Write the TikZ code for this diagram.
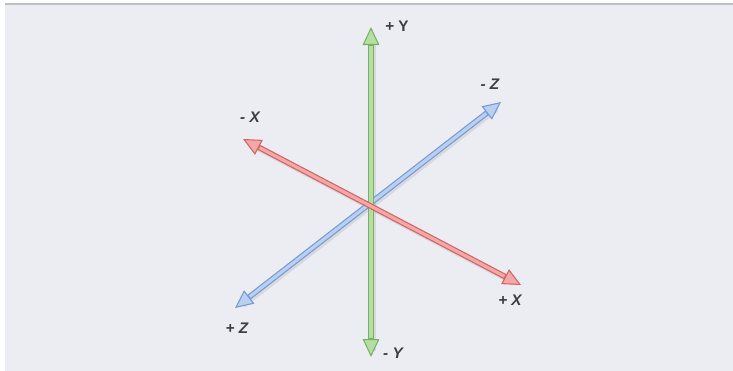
\documentclass[tikz,border=0pt]{standalone}
\usepackage{fontspec}
\setmainfont{Liberation Sans}
\usetikzlibrary{arrows.meta}
\definecolor{bgpanel}{RGB}{236,237,243}
\definecolor{rimline}{RGB}{190,192,190}
\definecolor{greendark}{RGB}{118,178,98}
\definecolor{greenlight}{RGB}{182,222,164}
\definecolor{reddark}{RGB}{212,100,100}
\definecolor{redlight}{RGB}{242,168,166}
\definecolor{bluedark}{RGB}{118,154,212}
\definecolor{bluelight}{RGB}{186,208,240}
\definecolor{labeltext}{RGB}{60,62,66}

\tikzset{
  axisrim/.style={draw=#1dark, line width=4.2pt,
    {Triangle[length=13.5pt, width=12.5pt, line width=0.8pt, fill=#1light]}-{Triangle[length=13.5pt, width=12.5pt, line width=0.8pt, fill=#1light]}},
  axiscore/.style={draw=#1light, line width=2.4pt, shorten <=14pt, shorten >=14pt},
  axisshade/.style={draw=gray, opacity=.18, line width=5pt, shorten <=6pt, shorten >=6pt, transform canvas={xshift=1.2pt, yshift=-1.2pt}},
  axislabel/.style={text=labeltext, font=\bfseries\itshape\fontsize{11.5}{13}\selectfont},
}

\begin{document}
\begin{tikzpicture}[x=0.75pt, y=-0.75pt]
  \useasboundingbox (0,0) rectangle (733,371);
  \fill[white] (0,0) rectangle (733,371);
  \fill[bgpanel] (5,4) rectangle (733,371);
  \draw[rimline, line width=1.2pt] (5,4) -- (733,4);

  % axis ends
  \coordinate (zpos) at (235,308);
  \coordinate (zneg) at (501,102);
  \coordinate (ypos) at (371,27);
  \coordinate (yneg) at (371,357);
  \coordinate (xneg) at (243,139);
  \coordinate (xpos) at (521,285);

  % soft shadows
  \draw[axisshade] (zpos) -- (zneg);
  \draw[axisshade] (yneg) -- (ypos);
  \draw[axisshade] (xneg) -- (xpos);
  % Z axis
  \draw[axisrim=blue] (zpos) -- (zneg);
  \draw[axiscore=blue] (zpos) -- (zneg);
  % Y axis
  \draw[axisrim=green] (yneg) -- (ypos);
  \draw[axiscore=green] (yneg) -- (ypos);
  % X axis
  \draw[axisrim=red] (xneg) -- (xpos);
  \draw[axiscore=red] (xneg) -- (xpos);

  \node[axislabel, font=\bfseries\fontsize{11.5}{13}\selectfont] (lblypos) at (397,26) {+ Y};
  \node[axislabel] (lblyneg) at (393,353) {- Y};
  \node[axislabel] (lblxneg) at (250,117) {- X};
  \node[axislabel] (lblxpos) at (510,300) {+ X};
  \node[axislabel] (lblzneg) at (490,84) {- Z};
  \node[axislabel] (lblzpos) at (237,328) {+ Z};
\end{tikzpicture}
\end{document}
